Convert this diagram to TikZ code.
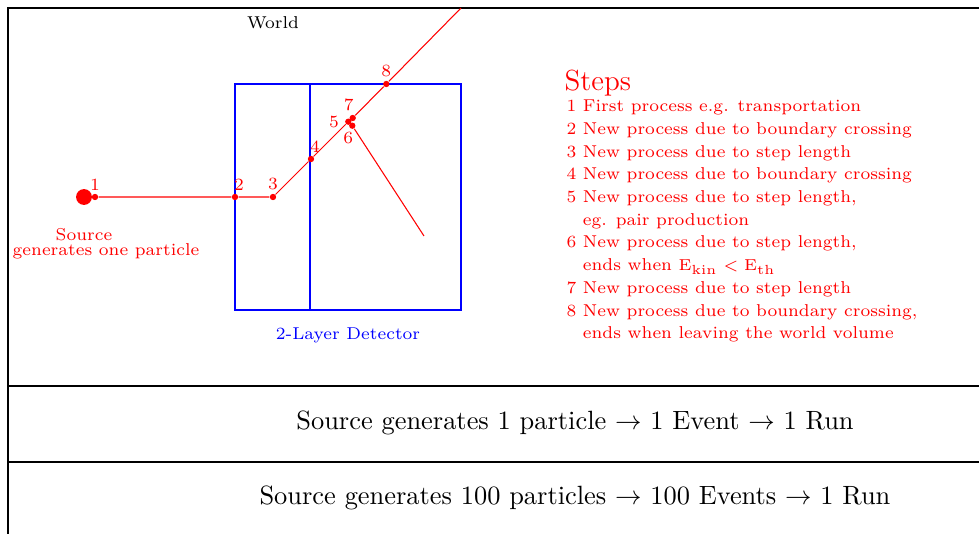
\documentclass[tikz,border=0pt]{standalone}
\usepackage{amsmath}
\usepackage{tikz}
\usetikzlibrary{positioning,calc}

\newcommand{\smallfont}{\fontsize{6.5}{8.6}\selectfont}

\begin{document}
\begin{tikzpicture}[
    x=0.01331cm, y=-0.01331cm,
    hit/.style={circle, fill=red, inner sep=0pt, minimum size=2.4pt},
    num/.style={red, font=\smallfont, inner sep=1pt},
    track/.style={red},
    layer/.style={blue, semithick},
    note/.style={red, font=\smallfont, align=left, inner sep=0pt}
]
    \useasboundingbox (0,0) rectangle (979,534);
    % world and the two run rows
    \draw (8,8) rectangle (1000,386);
    \draw (8,386) rectangle (1000,462);
    \draw (8,462) rectangle (1000,560);
    \node[font=\smallfont] (world) at (273,23) {World};

    % detector with two layers
    \node[draw=blue, semithick, minimum size=3.008cm, inner sep=0pt] (det) at (348,197) {};
    \coordinate (divtop) at ($(det.north west)!1/3!(det.north east)$);
    \coordinate (divbot) at ($(det.south west)!1/3!(det.south east)$);
    \draw[layer] (divtop) -- (divbot);
    \node[blue, font=\smallfont, below=3pt of det] (detlbl) {2-Layer Detector};

    % source and steps of the track
    \node[circle, fill=red, inner sep=0pt, minimum size=6pt] (src) at (84,197) {};
    \node[red, font=\smallfont, inner sep=0pt] (srclbl) at (84,235) {Source};
    \node[red, font=\smallfont, inner sep=0pt] (genlbl) at (106,251) {generates one particle};
    \node[hit, label={[num]above:1}] (p1) at (95,197) {};
    \node[hit, label={[num, xshift=1.5pt]above:2}] (p2) at (235,197) {};
    \node[hit, label={[num]above:3}] (p3) at (273,197) {};
    \node[hit, label={[num, xshift=1.5pt]above:4}] (p4) at (311,159) {};
    \node[hit, label={[num, xshift=-1pt]left:5}] (p5) at (348.3,121.7) {};
    \node[hit, label={[num, xshift=-1.5pt]below:6}] (p6) at (352.3,125.7) {};
    \node[hit, label={[num, xshift=-1.5pt]above:7}] (p7) at (352.7,118) {};
    \node[hit, label={[num]above:8}] (p8) at (386.3,84) {};
    \coordinate (exit) at (461,8);
    \coordinate (stop) at (424,236);

    \draw[track] (src) -- (p1) -- (p2) -- (p3) -- (p4) -- (p5) -- (p7) -- (p8) -- (exit);
    \draw[track] (p5) -- (p6) -- (stop);

    % legend of the steps
    \node[red, font=\fontsize{11}{13}\selectfont, anchor=base west, inner sep=0pt] (steps) at (564,91) {Steps};
    \node[note, anchor=north west] (list) at (566,99.5) {%
        1 First process e.g. transportation\\
        2 New process due to boundary crossing\\
        3 New process due to step length\\
        4 New process due to boundary crossing\\
        5 New process due to step length,\\
        \phantom{5 }eg. pair production\\
        6 New process due to step length,\\
        \phantom{6 }ends when $\mathrm{E_{kin}} < \mathrm{E_{th}}$\\
        7 New process due to step length\\
        8 New process due to boundary crossing,\\
        \phantom{8 }ends when leaving the world volume};

    % runs
    \node (run1) at (575,423) {Source generates 1 particle $\rightarrow$ 1 Event $\rightarrow$ 1 Run};
    \node (run100) at (575,498) {Source generates 100 particles $\rightarrow$ 100 Events $\rightarrow$ 1 Run};
\end{tikzpicture}
\end{document}
